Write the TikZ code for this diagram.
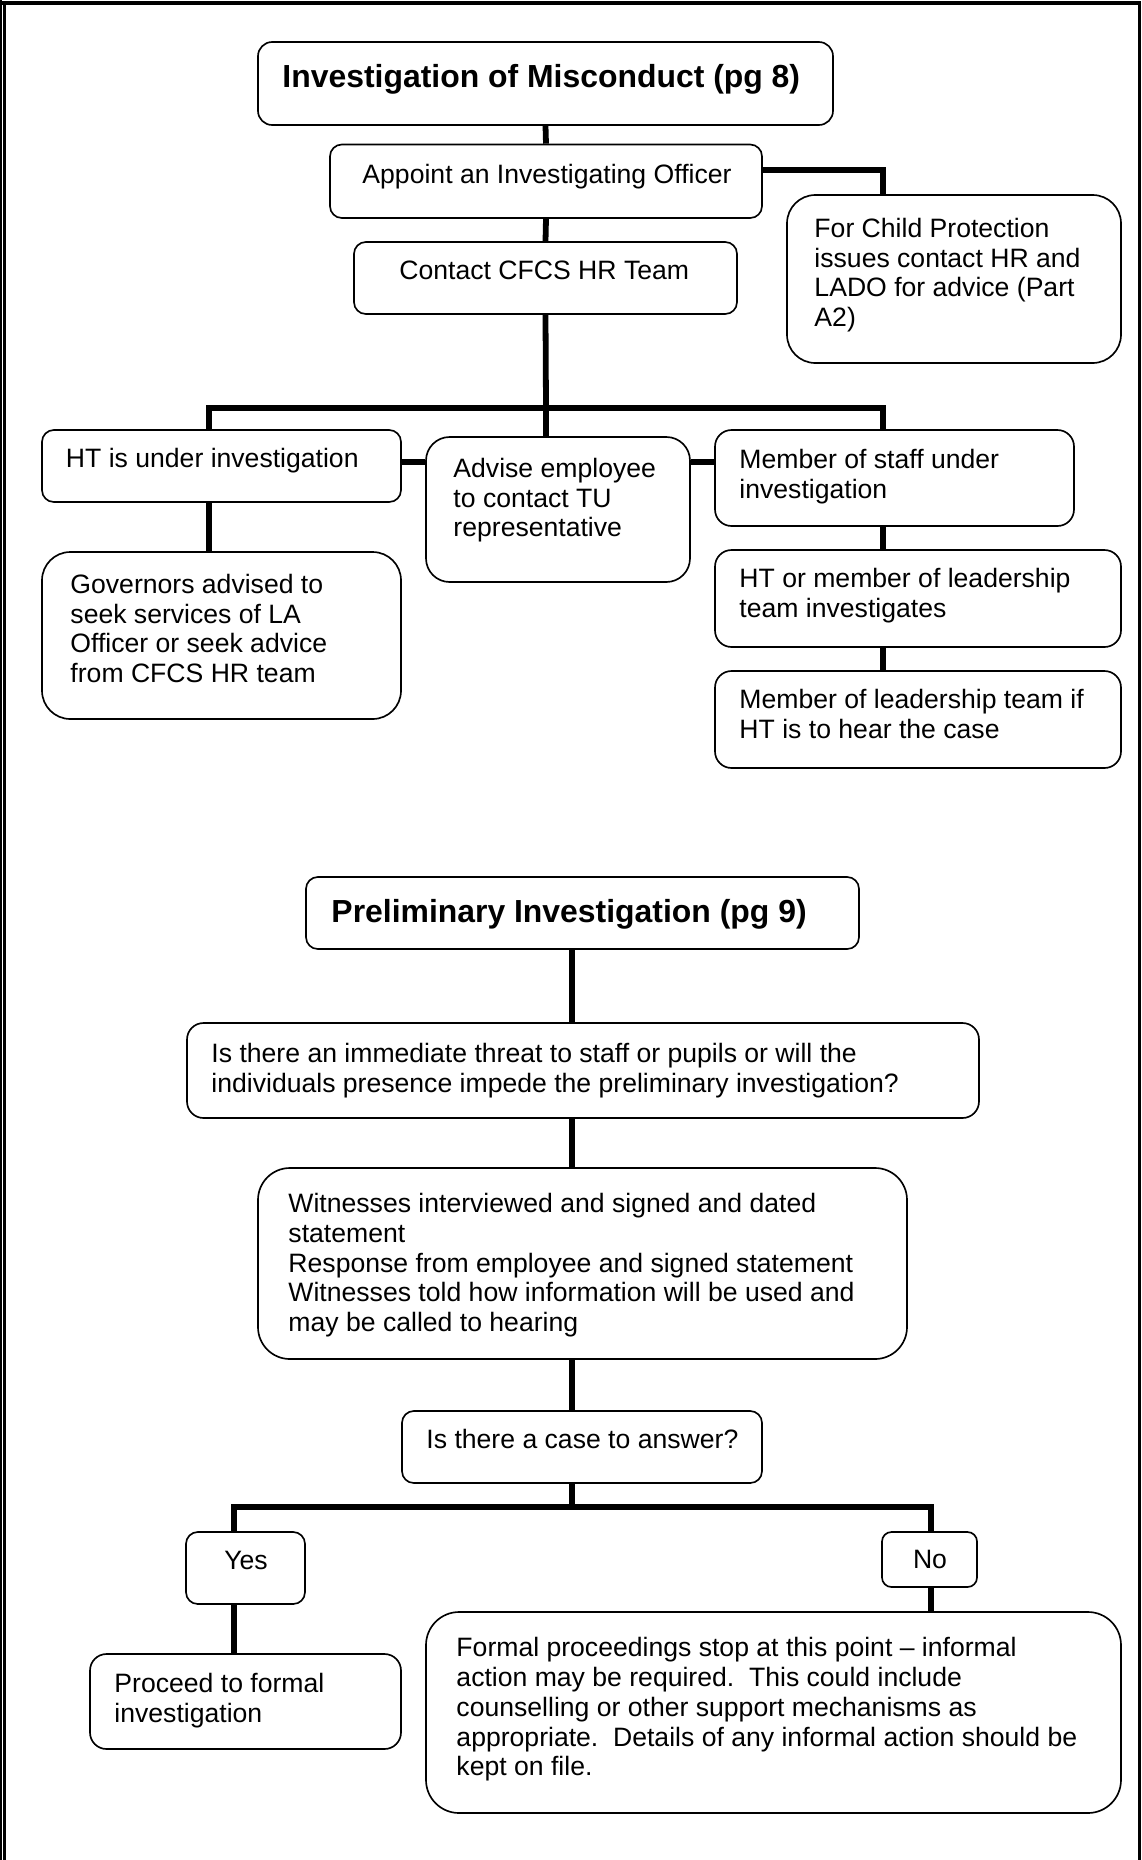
\documentclass[tikz,border=0pt]{standalone}
\usepackage{fontspec}
\setmainfont{Liberation Sans}
\usetikzlibrary{fit,calc}
\newcommand\bx[4]{\node[box, rounded corners=#4, fit={#2 #3}] (#1) {};}
\newcommand\tx[3]{\node[txt, anchor=base west] (#1) at #2 {\parbox[t]{14cm}{\raggedright #3}};}
\begin{document}
\begin{tikzpicture}[x=0.4231pt,y=-0.4231pt,
  box/.style={draw=black, line width=0.7pt, inner sep=0pt, fill=white},
  conn/.style={line width=2.45pt},
  bus/.style={line width=2.7pt},
  frame/.style={line width=#1},
  txt/.style={inner sep=0pt, font=\fontsize{11.25pt}{12.69pt}\selectfont},
  ttl/.style={inner sep=0pt, anchor=base west, font=\fontsize{13.5pt}{16pt}\selectfont\bfseries},
  ctr/.style={inner sep=0pt, anchor=base, font=\fontsize{11.25pt}{12.69pt}\selectfont}]
\useasboundingbox (0,0) rectangle (1141,1860);
% page frame
\draw[frame=1.7pt] (0,3) -- (1141,3);
\draw[frame=0.65pt] (0.8,0) -- (0.8,1860);
\draw[frame=1.05pt] (4.6,1) -- (4.6,1860);
\draw[frame=1.05pt] (1139.3,1) -- (1139.3,1860);
% ---------- part 1 boxes
\bx{title}{(258,42)}{(833,125)}{6pt}
\bx{appoint}{(330,144.5)}{(762,218)}{5pt}
\bx{child}{(787,195)}{(1121,363)}{12pt}
\bx{contact}{(354,242)}{(737,314)}{5pt}
\bx{ht}{(42,430)}{(401,502)}{5pt}
\bx{advise}{(426,437)}{(690,582)}{10pt}
\bx{member}{(715,430)}{(1074,526)}{7pt}
\bx{gov}{(42,552)}{(401,719)}{12pt}
\bx{htlead}{(715,550)}{(1121,647)}{7pt}
\bx{lead}{(715,671)}{(1121,768)}{7pt}
% ---------- part 1 texts
\node[ttl] (titleT) at (282,87) {Investigation of Misconduct (pg 8)};
\tx{appointT}{(362,183)}{Appoint an Investigating Officer}
\tx{childT}{(814,237)}{For Child Protection\\issues contact HR and\\LADO for advice (Part\\A2)}
\tx{contactT}{(399,279)}{Contact CFCS HR Team}
\tx{htT}{(65.5,467)}{HT is under investigation}
\tx{adviseT}{(453,477)}{Advise employee\\to contact TU\\representative}
\tx{memberT}{(739,468)}{Member of staff under\\investigation}
\tx{govT}{(70,593)}{Governors advised to\\seek services of LA\\Officer or seek advice\\from CFCS HR team}
\tx{htleadT}{(739,587)}{HT or member of leadership\\team investigates}
\tx{leadT}{(739,708)}{Member of leadership team if\\HT is to hear the case}
% ---------- part 1 connectors
\coordinate (c1) at (883,170);
\coordinate (busL) at (209,408);
\coordinate (busM) at (546,408);
\coordinate (busR) at (883,408);
\coordinate (s1) at (0,462);
\draw[conn] (title.south) -- (appoint.north);
\draw[conn] (appoint.south) -- (contact.north);
\draw[conn] (appoint.east |- c1) -| (c1 |- child.north);
\draw[conn] (contact.south) -- (busM);
\draw[bus] (busL) -- (busR);
\draw[conn] ([yshift=1.2pt]busL) -- (busL |- ht.north);
\draw[conn] (busM) -- (busM |- advise.north);
\draw[conn] ([yshift=1.2pt]busR) -- (busR |- member.north);
\draw[conn] (ht.east |- s1) -- (advise.west |- s1);
\draw[conn] (advise.east |- s1) -- (member.west |- s1);
\draw[conn] (busL |- ht.south) -- (busL |- gov.north);
\draw[conn] (busR |- member.south) -- (busR |- htlead.north);
\draw[conn] (busR |- htlead.south) -- (busR |- lead.north);
% ---------- part 2 boxes
\bx{prelim}{(306,877)}{(859,949)}{5pt}
\bx{threat}{(187,1023)}{(979,1118)}{7pt}
\bx{witness}{(258,1168)}{(907,1359)}{13.5pt}
\bx{case}{(402,1411)}{(762,1483)}{5pt}
\bx{yes}{(186,1532)}{(305,1604)}{5pt}
\bx{no}{(882,1532)}{(977,1587)}{4pt}
\bx{proceed}{(90,1654)}{(401,1749)}{7pt}
\bx{formal}{(426,1612)}{(1121,1813)}{14pt}
% ---------- part 2 texts
\node[ttl] (prelimT) at (331,922) {Preliminary Investigation (pg 9)};
\tx{threatT}{(211,1062)}{Is there an immediate threat to staff or pupils or will the\\individuals presence impede the preliminary investigation?}
\tx{witnessT}{(288,1212)}{Witnesses interviewed and signed and dated\\statement\\Response from employee and signed statement\\Witnesses told how information will be used and\\may be called to hearing}
\tx{caseT}{(426,1448)}{Is there a case to answer?}
\node[ctr] (yesT) at (246,1569) {Yes};
\node[ctr] (noT) at (930,1568) {No};
\tx{proceedT}{(114,1692)}{Proceed to formal\\investigation}
\tx{formalT}{(456,1656)}{Formal proceedings stop at this point – informal\\action may be required.\ \ This could include\\counselling or other support mechanisms as\\appropriate.\ \ Details of any informal action should be\\kept on file.}
% ---------- part 2 connectors
\coordinate (m2) at (572,0);
\coordinate (b2L) at (234,1507);
\coordinate (b2M) at (572,1507);
\coordinate (b2R) at (931,1507);
\draw[conn] (m2 |- prelim.south) -- (m2 |- threat.north);
\draw[conn] (m2 |- threat.south) -- (m2 |- witness.north);
\draw[conn] (m2 |- witness.south) -- (m2 |- case.north);
\draw[conn] (m2 |- case.south) -- (b2M);
\draw[bus] (b2L) -- (b2R);
\draw[conn] ([yshift=1.2pt]b2L) -- (b2L |- yes.north);
\draw[conn] ([yshift=1.2pt]b2R) -- (b2R |- no.north);
\draw[conn] (b2L |- yes.south) -- (b2L |- proceed.north);
\draw[conn] (b2R |- no.south) -- (b2R |- formal.north);
\end{tikzpicture}
\end{document}
